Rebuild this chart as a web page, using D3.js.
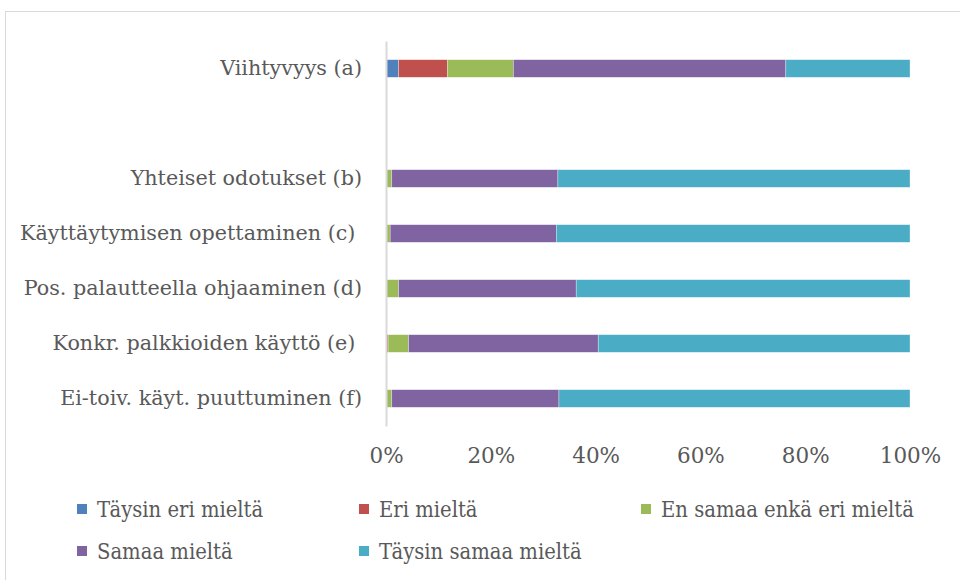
<!DOCTYPE html>
<html>
<head>
<meta charset="utf-8">
<script src="https://cdn.jsdelivr.net/npm/d3@7"></script>
<style>
  body { margin: 0; background: #fff; }
  text { font-family: "DejaVu Serif", serif; fill: #595959; }
</style>
</head>
<body>
<div id="chart"></div>
<script>
// categories (the empty one is the gap row under (a))
var categories = ["Viihtyvyys (a)", "", "Yhteiset odotukset (b)", "Käyttäytymisen opettaminen (c)\u00a0",
                  "Pos. palautteella ohjaaminen (d)", "Konkr. palkkioiden käyttö (e)\u00a0", "Ei-toiv. käyt. puuttuminen (f)"];
var seriesNames = ["Täysin eri mieltä", "Eri mieltä", "En samaa enkä eri mieltä", "Samaa mieltä", "Täysin samaa mieltä"];
var seriesColors = ["#4F81BD", "#C0504D", "#9BBB59", "#8064A2", "#4BACC6"];

// percent values per category
var taysinEri   = [2.4,  null, 0,    0,    0,    0,    0];
var eriMielta   = [9.3,  null, 0,    0,    0,    0.4,  0];
var enSamaa     = [12.6, null, 1.1,  0.8,  2.4,  3.9,  1.1];
var samaaMielta = [52.0, null, 31.7, 31.7, 33.9, 36.2, 31.9];
var taysinSamaa = [23.7, null, 67.2, 67.5, 63.7, 59.5, 67.0];
var xTicks = [0, 0.2, 0.4, 0.6, 0.8, 1];

var allSeries = [taysinEri, eriMielta, enSamaa, samaaMielta, taysinSamaa];

var margin = {top: 41, left: 386},
    plotW = 524,
    plotH = 385;

var svg = d3.select("#chart").append("svg")
    .attr("width", 960)
    .attr("height", 580);

// chart area border
svg.append("rect")
    .attr("x", 5.5).attr("y", 11.5)
    .attr("width", 1000).attr("height", 600)
    .attr("fill", "none")
    .attr("stroke", "#d9d9d9")
    .attr("stroke-width", 1);

var g = svg.append("g")
    .attr("transform", "translate(" + margin.left + "," + margin.top + ")");

var x = d3.scaleLinear().domain([0, 1]).range([0, plotW]);
var y = d3.scaleBand().domain(d3.range(categories.length)).range([0, plotH]).paddingInner(0.68).paddingOuter(0.34);

// build rows for the stack
var rows = categories.map(function(c, i) {
  var r = {idx: i};
  seriesNames.forEach(function(s, j) { r[s] = (allSeries[j][i] || 0) / 100; });
  r.empty = allSeries[0][i] === null;
  return r;
});
var stack = d3.stack().keys(seriesNames)(rows.filter(function(r) { return !r.empty; }));

g.selectAll("g.layer")
  .data(stack)
  .enter().append("g")
    .attr("class", "layer")
    .attr("fill", function(d, i) { return seriesColors[i]; })
  .selectAll("rect")
  .data(function(d) { return d; })
  .enter().append("rect")
    .attr("x", function(d) { return x(d[0]); })
    .attr("y", function(d) { return y(d.data.idx); })
    .attr("width", function(d) { return x(d[1]) - x(d[0]); })
    .attr("height", y.bandwidth())
    .attr("stroke", "#fff")
    .attr("stroke-opacity", 0.5)
    .attr("stroke-width", 0.6);

// Y axis
var yAxis = g.append("g")
    .call(d3.axisLeft(y).tickSize(0).tickPadding(24).tickFormat(function(i) { return categories[i]; }));
yAxis.select(".domain").attr("stroke", "#d9d9d9").attr("stroke-width", 2);
yAxis.selectAll("text").style("font-size", "20.7px").style("fill", "#595959").style("font-family", "DejaVu Serif");

// X axis
var xAxis = g.append("g")
    .attr("transform", "translate(0," + plotH + ")")
    .call(d3.axisBottom(x).tickValues(xTicks).tickSize(0).tickPadding(22).tickFormat(d3.format(".0%")));
xAxis.select(".domain").remove();
xAxis.selectAll("text").style("font-size", "21.5px").style("fill", "#595959").style("font-family", "DejaVu Serif");

// legend
var legendPos = [[77, 509], [359, 509], [641, 509], [77, 551], [359, 551]];
var legend = svg.selectAll("g.legend")
  .data(seriesNames)
  .enter().append("g")
    .attr("class", "legend")
    .attr("transform", function(d, i) { return "translate(" + legendPos[i][0] + "," + legendPos[i][1] + ")"; });
legend.append("rect")
    .attr("x", 0).attr("y", -5)
    .attr("width", 10).attr("height", 10)
    .attr("fill", function(d, i) { return seriesColors[i]; });
legend.append("text")
    .attr("x", 20)
    .attr("dy", "0.36em")
    .style("font-size", "21.8px")
    .style("font-stretch", "condensed")
    .style("font-family", "DejaVu Serif Condensed, DejaVu Serif")
    .text(function(d) { return d; });
</script>
</body>
</html>
